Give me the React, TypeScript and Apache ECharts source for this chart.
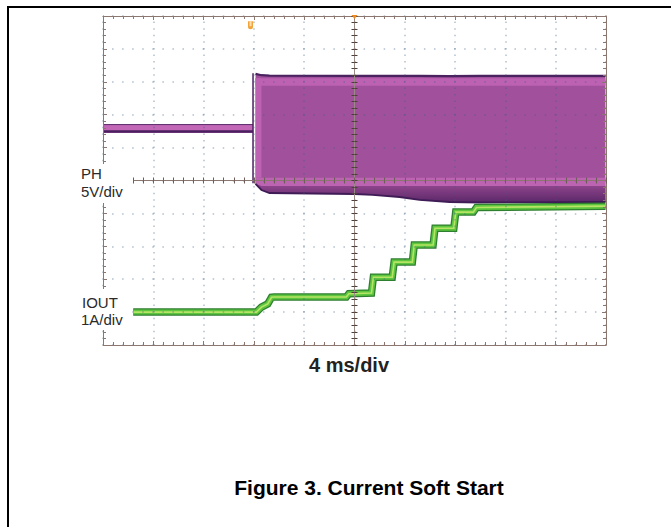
import React, { useEffect, useRef } from "react";
import * as echarts from "echarts";

// Axis ranges (time in ms, PH in V, IOUT in A); 10 divisions each
const timeMin = -20;
const timeMax = 20;
const timeDiv = 4;
const phMin = -25;
const phMax = 25;
const phDiv = 5;
const ioutMin = -1;
const ioutMax = 9;
const ioutDiv = 1;

// PH trace: before switching starts
const phPreTime = [-20, -8.07];
const phPreTop = [8.5, 8.5];
const phPreBottom = [7.2, 7.2];
// PH switching edge
const phEdgeTime = -8.07;
const phEdgeVolts = [16.3, -0.4];
// PH switching envelope
const phBlockTime = [-7.87, -7.4, -6.76, 0, 1.43, 3.58, 5.17, 7.55, 9.94, 19.96];
const phBlockTop = [16.2, 16.0, 15.95, 15.9, 15.9, 15.9, 15.9, 15.85, 15.9, 15.9];
const phBlockBottom = [-0.53, -1.44, -1.9, -2.05, -2.2, -2.51, -2.96, -3.27, -3.34, -3.27];
const phHighBand = [15.55, 14.4];
const phLowBand = [0.4, -0.85];
const phLeftColumnEnd = -7.4;

// IOUT trace
const ioutTime = [-17.6, -7.8, -7.4, -6.9, -6.6, -6.4, -0.65, -0.45, 1.35, 1.5, 3.0, 3.15, 4.6, 4.75, 6.25, 6.4, 7.9, 8.05, 9.45, 9.7, 19.96];
const ioutAmps = [0.0, 0.0, 0.15, 0.25, 0.45, 0.46, 0.46, 0.56, 0.58, 1.06, 1.06, 1.52, 1.52, 2.04, 2.04, 2.55, 2.55, 3.04, 3.04, 3.18, 3.22];

// Markers
const triggerTime = -8.27;
const triggerLevel = 23.6;
const positionMarkerTime = 0;

const FONT = "'Liberation Sans', Arial, Helvetica, sans-serif";
const BORDER = "#8c7770";
const DOTS = "rgba(60,95,130,0.4)";

export default function App() {
  const ref = useRef<HTMLDivElement>(null);

  useEffect(() => {
    const chart = echarts.init(ref.current!, null, { renderer: "svg" });

    const borderX = (position: string) => ({
      type: "value",
      min: timeMin,
      max: timeMax,
      interval: timeDiv,
      position,
      z: 10,
      axisLine: { show: true, onZero: false, lineStyle: { color: BORDER, width: 1 } },
      axisTick: { show: true, inside: true, length: 4, lineStyle: { color: BORDER } },
      minorTick: { show: true, splitNumber: 5, length: 3, lineStyle: { color: BORDER } },
      axisLabel: { show: false },
      splitLine: { show: false },
    });
    const borderY = (position: string) => ({
      type: "value",
      min: phMin,
      max: phMax,
      interval: phDiv,
      position,
      z: 10,
      axisLine: { show: true, onZero: false, lineStyle: { color: BORDER, width: 1 } },
      axisTick: { show: true, inside: true, length: 4, lineStyle: { color: BORDER } },
      minorTick: { show: true, splitNumber: 5, length: 3, lineStyle: { color: BORDER } },
      axisLabel: { show: false },
      splitLine: { show: false },
    });
    const centerX = (inside: boolean) => ({
      type: "value",
      min: timeMin,
      max: timeMax,
      interval: timeDiv,
      z: 10,
      axisLine: { show: true, onZero: true, onZeroAxisIndex: 0, lineStyle: { color: BORDER, width: 1 } },
      axisTick: { show: true, inside, length: 3, lineStyle: { color: "#6e5d58" } },
      minorTick: { show: true, splitNumber: 5, length: 3, lineStyle: { color: "#6e5d58" } },
      axisLabel: { show: false },
      splitLine: { show: false },
    });
    const centerY = (inside: boolean) => ({
      type: "value",
      min: phMin,
      max: phMax,
      interval: phDiv,
      z: 10,
      axisLine: { show: true, onZero: true, onZeroAxisIndex: 0, lineStyle: { color: "#9a8a85", width: 1 } },
      axisTick: { show: true, inside, length: 3, lineStyle: { color: "#4e3f3a" } },
      minorTick: { show: true, splitNumber: 5, length: 3, lineStyle: { color: "#4e3f3a" } },
      axisLabel: { show: false },
      splitLine: { show: false },
    });

    const xAxes: any[] = [
      {
        ...borderX("bottom"),
        splitLine: { show: true, lineStyle: { color: DOTS, width: 1.5, type: [1.5, 5.08], dashOffset: 0.75 } },
      },
      borderX("top"),
      centerX(true),
      centerX(false),
    ];
    const yAxes: any[] = [
      {
        ...borderY("left"),
        splitLine: { show: true, lineStyle: { color: DOTS, width: 1.5, type: [1.5, 8.56], dashOffset: 0.75 } },
      },
      { type: "value", min: ioutMin, max: ioutMax, interval: ioutDiv, show: false },
      borderY("right"),
      centerY(true),
      centerY(false),
    ];

    const phRender = (params: any, api: any) => {
      const c = (t: number, v: number) => api.coord([t, v]);
      const poly = (upper: number[][], lower: number[][]) => upper.concat(lower.slice().reverse());
      const topPts = phBlockTime.map((t, i) => c(t, phBlockTop[i]));
      const botPts = phBlockTime.map((t, i) => c(t, phBlockBottom[i]));
      const hiUpper = phBlockTime.map((t) => c(t, phHighBand[0]));
      const hiLower = phBlockTime.map((t) => c(t, phHighBand[1]));
      const loUpper = phBlockTime.map((t, i) => c(t, Math.max(phLowBand[0], phBlockBottom[i])));
      const loLower = phBlockTime.map((t, i) => c(t, Math.max(phLowBand[1], phBlockBottom[i])));
      const darkUpper = phBlockTime.map((t, i) => c(t, Math.max(phLowBand[1], phBlockBottom[i])));
      const t0 = phBlockTime[0];
      const preTopPts = phPreTime.map((t, i) => c(t, phPreTop[i]));
      const preBotPts = phPreTime.map((t, i) => c(t, phPreBottom[i]));
      const preDarkPts = phPreTime.map((t, i) => c(t, phPreBottom[i] + 0.25));
      return {
        type: "group",
        children: [
          { type: "polygon", shape: { points: poly(topPts, botPts) }, style: { fill: "#a1509b" } },
          { type: "polygon", shape: { points: poly(hiUpper, hiLower) }, style: { fill: "#bd62b2" } },
          {
            type: "polygon",
            shape: { points: [c(t0, phHighBand[0]), c(phLeftColumnEnd, phHighBand[0]), c(phLeftColumnEnd, phLowBand[0]), c(t0, phLowBand[0])] },
            style: { fill: "#bd62b2" },
          },
          { type: "polygon", shape: { points: poly(loUpper, loLower) }, style: { fill: "#bc64b2" } },
          {
            type: "polygon",
            shape: { points: poly(darkUpper, botPts) },
            style: {
              fill: new echarts.graphic.LinearGradient(0, 0, 0, 1, [
                { offset: 0, color: "#94478f" },
                { offset: 1, color: "#5a2868" },
              ]),
            },
          },
          { type: "polyline", shape: { points: topPts }, style: { stroke: "#4a2260", lineWidth: 2.2, fill: "none" } },
          { type: "polyline", shape: { points: botPts }, style: { stroke: "#3f1c55", lineWidth: 1.8, fill: "none" } },
          { type: "polygon", shape: { points: poly(preTopPts, preBotPts) }, style: { fill: "#c266b6" } },
          { type: "polyline", shape: { points: preTopPts }, style: { stroke: "#5a2a6a", lineWidth: 1, fill: "none" } },
          { type: "polyline", shape: { points: preDarkPts }, style: { stroke: "#4a2060", lineWidth: 2.5, fill: "none" } },
          {
            type: "line",
            shape: {
              x1: c(phEdgeTime, phEdgeVolts[0])[0],
              y1: c(phEdgeTime, phEdgeVolts[0])[1],
              x2: c(phEdgeTime, phEdgeVolts[1])[0],
              y2: c(phEdgeTime, phEdgeVolts[1])[1],
            },
            style: { stroke: "#4a2060", lineWidth: 1.5 },
          },
        ],
      };
    };

    const markerRender = (params: any, api: any) => {
      const trig = api.coord([triggerTime, triggerLevel]);
      const pos = api.coord([positionMarkerTime, phMax]);
      return {
        type: "group",
        children: [
          {
            type: "rect",
            shape: { x: trig[0] - 2.5, y: trig[1] - 4, width: 5, height: 8, r: [0, 0, 2.5, 2.5] },
            style: { fill: "#f2a33a" },
          },
          {
            type: "rect",
            shape: { x: trig[0] - 1, y: trig[1] - 4, width: 2, height: 5 },
            style: { fill: "#fde2b8" },
          },
          {
            type: "polygon",
            shape: { points: [[pos[0] - 3, pos[1] - 1], [pos[0] + 3, pos[1] - 1], [pos[0], pos[1] + 3]] },
            style: { fill: "#f08a20" },
          },
        ],
      };
    };

    const ioutData = ioutTime.map((t, i) => [t, ioutAmps[i]]);
    const ioutLine = (color: string, width: number, z: number) => ({
      type: "line",
      xAxisIndex: 0,
      yAxisIndex: 1,
      data: ioutData,
      symbol: "none",
      showSymbol: false,
      smooth: false,
      z,
      lineStyle: { color, width, cap: "butt", join: "miter" },
      silent: true,
    });

    const option: any = {
      animation: false,
      backgroundColor: "#ffffff",
      grid: { left: 103, top: 16, width: 503, height: 329, containLabel: false },
      xAxis: xAxes,
      yAxis: yAxes,
      series: [
        { type: "custom", xAxisIndex: 0, yAxisIndex: 0, data: [[0, 0]], renderItem: phRender, z: 2, silent: true },
        ioutLine("#2f7f30", 7.5, 3),
        ioutLine("#5cc63e", 5, 4),
        ioutLine("#b8e466", 1.6, 5),
        { type: "custom", xAxisIndex: 0, yAxisIndex: 0, data: [[0, 0]], renderItem: markerRender, z: 20, silent: true },
      ],
      graphic: [
        { type: "line", z: 100, shape: { x1: 7, y1: 7, x2: 671, y2: 7 }, style: { stroke: "#000", lineWidth: 2 } },
        { type: "line", z: 100, shape: { x1: 8, y1: 6, x2: 8, y2: 527 }, style: { stroke: "#000", lineWidth: 2 } },
        { type: "rect", z: 100, shape: { x: 72, y: 164, width: 61, height: 39 }, style: { fill: "#fff" } },
        { type: "text", z: 101, x: 81, y: 166, style: { text: "PH", font: `15px ${FONT}`, fill: "#2a2a2a" } },
        { type: "text", z: 101, x: 81, y: 184, style: { text: "5V/div", font: `15px ${FONT}`, fill: "#2a2a2a" } },
        { type: "rect", z: 100, shape: { x: 72, y: 289, width: 58, height: 41 }, style: { fill: "#fff" } },
        { type: "text", z: 101, x: 82, y: 295, style: { text: "IOUT", font: `15px ${FONT}`, fill: "#2a2a2a" } },
        { type: "text", z: 101, x: 81, y: 312, style: { text: "1A/div", font: `15px ${FONT}`, fill: "#2a2a2a" } },
        {
          type: "text",
          z: 101,
          x: 349,
          y: 365,
          style: { text: "4 ms/div", font: `bold 20px ${FONT}`, fill: "#222", textAlign: "center", textVerticalAlign: "middle" },
        },
        {
          type: "text",
          z: 101,
          x: 369,
          y: 487,
          style: { text: "Figure 3. Current Soft Start", font: `bold 21px ${FONT}`, fill: "#000", textAlign: "center", textVerticalAlign: "middle" },
        },
      ],
    };

    chart.setOption(option);
    return () => chart.dispose();
  }, []);

  return <div ref={ref} style={{ position: "absolute", left: 0, top: 0, width: 671, height: 527 }} />;
}
